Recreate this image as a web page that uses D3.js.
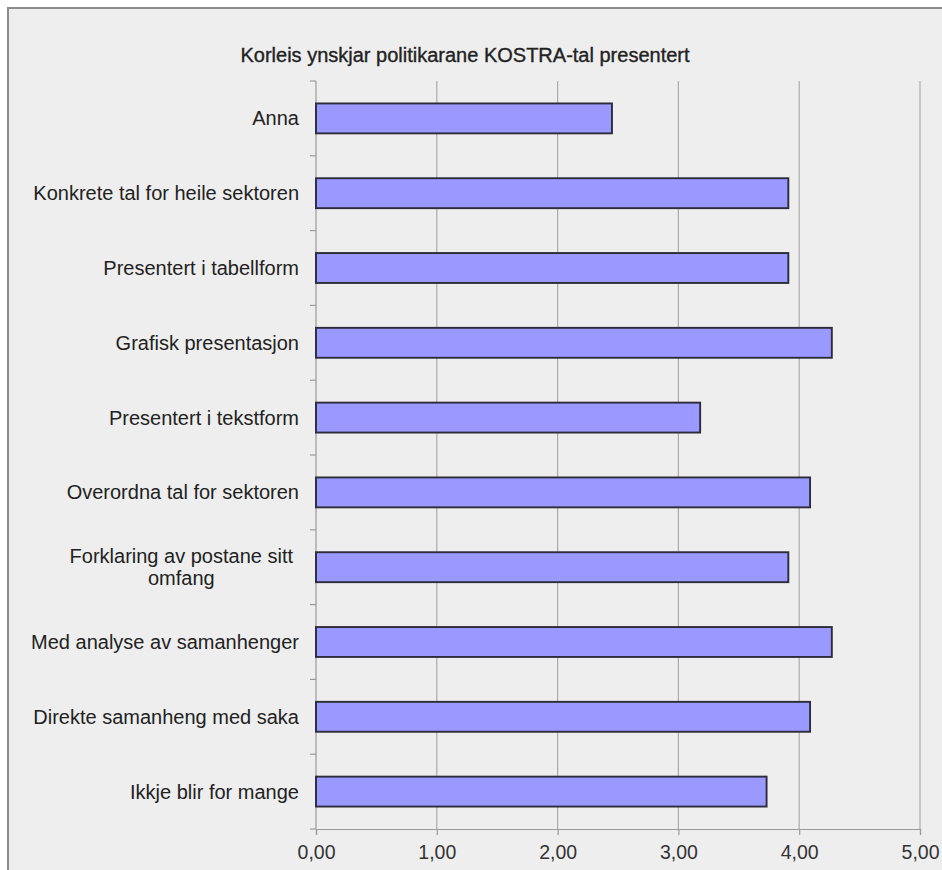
<!DOCTYPE html>
<html>
<head>
<meta charset="utf-8">
<script src="https://cdn.jsdelivr.net/npm/d3@7"></script>
<style>
  body { margin: 0; background: #fff; }
  svg { display: block; font-family: "Liberation Sans", Arial, sans-serif; }
</style>
</head>
<body>
<svg id="chart" width="942" height="870"></svg>
<script>
// chart data
var title = "Korleis ynskjar politikarane KOSTRA-tal presentert";
var categories = [
    "Anna",
    "Konkrete tal for heile sektoren",
    "Presentert i tabellform",
    "Grafisk presentasjon",
    "Presentert i tekstform",
    "Overordna tal for sektoren",
    "Forklaring av postane sitt\nomfang",
    "Med analyse av samanhenger",
    "Direkte samanheng med saka",
    "Ikkje blir for mange"
];
var values = [2.45, 3.91, 3.91, 4.27, 3.18, 4.09, 3.91, 4.27, 4.09, 3.73];
var xTicks = [0, 1, 2, 3, 4, 5];

var W = 942, H = 870;
var margin = {top: 81, right: 22, bottom: 41, left: 316};

var svg = d3.select("#chart");

// frame: grey panel with a border on top and left
svg.append("rect")
    .attr("x", 8).attr("y", 8)
    .attr("width", W).attr("height", H)
    .attr("fill", "#eeeeee");
svg.append("path")
    .attr("d", "M8," + H + "V8H" + W)
    .attr("fill", "none")
    .attr("stroke", "#8c8c8c")
    .attr("stroke-width", 2);

var x = d3.scaleLinear()
    .domain([0, 5])
    .range([margin.left, W - margin.right]);

var y = d3.scaleBand()
    .domain(categories)
    .range([margin.top, H - margin.bottom])
    .paddingInner(0.6)
    .paddingOuter(0.3);

var plotTop = margin.top, plotBottom = H - margin.bottom;

// vertical gridlines
svg.append("g")
    .selectAll("line")
    .data(xTicks.slice(1))
    .enter()
    .append("line")
    .attr("x1", d => x(d)).attr("x2", d => x(d))
    .attr("y1", plotTop).attr("y2", plotBottom)
    .attr("stroke", "#ababab")
    .attr("stroke-width", 1.2);

// x axis
var xAxis = d3.axisBottom(x)
    .tickValues(xTicks)
    .tickSize(6)
    .tickPadding(10)
    .tickFormat(d => d3.format(".2f")(d).replace(".", ","));

var gx = svg.append("g")
    .attr("transform", "translate(0," + plotBottom + ")")
    .call(xAxis);
gx.select(".domain").attr("stroke", "#9a9a9a").attr("stroke-width", 1.2);
gx.selectAll(".tick line").attr("stroke", "#9a9a9a").attr("stroke-width", 1.2);
gx.selectAll(".tick text")
    .attr("fill", "#333")
    .style("font-size", "19.5px");

// y axis line with ticks at band borders
var step = y.step();
var borders = d3.range(categories.length + 1).map(i => plotTop + i * step);
var gy = svg.append("g");
gy.append("line")
    .attr("x1", x(0)).attr("x2", x(0))
    .attr("y1", plotTop).attr("y2", plotBottom)
    .attr("stroke", "#9a9a9a").attr("stroke-width", 1.2);
gy.selectAll("line.tk")
    .data(borders)
    .enter()
    .append("line")
    .attr("class", "tk")
    .attr("x1", x(0) - 6).attr("x2", x(0))
    .attr("y1", d => d).attr("y2", d => d)
    .attr("stroke", "#9a9a9a").attr("stroke-width", 1.2);

// bars
svg.append("g")
    .selectAll("rect")
    .data(categories)
    .enter()
    .append("rect")
    .attr("x", x(0))
    .attr("y", d => y(d))
    .attr("width", (d, i) => x(values[i]) - x(0))
    .attr("height", y.bandwidth())
    .attr("fill", "#9999ff")
    .attr("stroke", "#2c2c3a")
    .attr("stroke-width", 1.9);

// category labels (multi-line ones are centred as a block)
var labelRight = x(0) - 17;
var labels = svg.append("g")
    .style("font-size", "20px")
    .attr("fill", "#222");

categories.forEach(function(c) {
    var lines = c.split("\n");
    var cy = y(c) + y.bandwidth() / 2;
    var t = labels.append("text");
    if (lines.length == 1) {
        t.attr("x", labelRight)
         .attr("y", cy)
         .attr("dy", "0.35em")
         .attr("text-anchor", "end")
         .text(c);
    } else {
        var lh = 22;
        lines.forEach(function(l, j) {
            t.append("tspan")
             .attr("y", cy + (j - (lines.length - 1) / 2) * lh)
             .attr("dy", "0.35em")
             .text(l);
        });
        // width of the longest line decides the centre
        var maxW = d3.max(t.selectAll("tspan").nodes(), n => n.getComputedTextLength());
        var cx = labelRight - 6 - maxW / 2;
        t.attr("text-anchor", "middle");
        t.selectAll("tspan").attr("x", cx);
    }
});

// title
svg.append("text")
    .attr("x", 465)
    .attr("y", 62)
    .attr("text-anchor", "middle")
    .attr("fill", "#222")
    .attr("stroke", "#222")
    .attr("stroke-width", 0.35)
    .style("font-size", "20px")
    .text(title);
</script>
</body>
</html>
